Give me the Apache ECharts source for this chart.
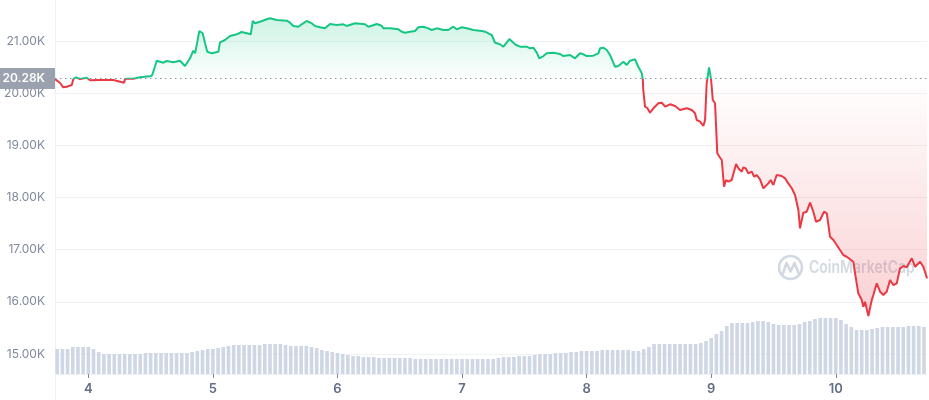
<!DOCTYPE html>
<html><head><meta charset="utf-8">
<script src="https://cdn.jsdelivr.net/npm/echarts@6/dist/echarts.min.js"></script>
<style>html,body{margin:0;padding:0;background:#fff}#c{width:929px;height:400px}</style>
</head><body><div id="c"></div>
<script>
// Time in fractional day-of-month (November), price in USD
const days = [
3.733,3.773,3.799,3.827,3.867,3.880,3.901,3.933,3.987,4.014,
4.094,4.201,4.214,4.287,4.295,4.361,4.415,4.509,4.522,4.549,
4.602,4.629,4.682,4.736,4.776,4.816,4.843,4.857,4.875,4.891,
4.918,4.937,4.955,4.991,5.044,5.057,5.097,5.138,5.191,5.231,
5.272,5.304,5.320,5.338,5.378,5.432,5.459,5.512,5.593,5.619,
5.646,5.686,5.713,5.753,5.793,5.820,5.860,5.900,5.940,5.994,
6.047,6.074,6.141,6.221,6.248,6.275,6.315,6.355,6.368,6.422,
6.489,6.516,6.542,6.583,6.623,6.649,6.689,6.729,6.757,6.797,
6.850,6.890,6.930,6.957,6.998,7.038,7.091,7.158,7.185,7.211,
7.238,7.265,7.305,7.332,7.353,7.380,7.412,7.433,7.466,7.519,
7.546,7.572,7.600,7.620,7.653,7.680,7.733,7.787,7.813,7.867,
7.907,7.947,7.974,8.001,8.054,8.094,8.108,8.134,8.162,8.188,
8.228,8.255,8.295,8.322,8.349,8.389,8.415,8.443,8.451,8.455,
8.469,8.487,8.509,8.536,8.576,8.603,8.630,8.670,8.710,8.750,
8.804,8.844,8.870,8.884,8.911,8.937,8.951,8.964,8.983,8.999,
9.013,9.031,9.049,9.066,9.085,9.103,9.119,9.138,9.165,9.178,
9.200,9.218,9.245,9.258,9.277,9.298,9.326,9.344,9.366,9.392,
9.419,9.459,9.478,9.499,9.526,9.566,9.593,9.619,9.647,9.673,
9.700,9.713,9.740,9.767,9.794,9.820,9.842,9.874,9.906,9.928,
9.954,9.981,10.008,10.034,10.061,10.088,10.101,10.141,10.155,10.181,
10.209,10.221,10.235,10.262,10.289,10.302,10.329,10.356,10.382,10.409,
10.436,10.462,10.490,10.516,10.543,10.570,10.610,10.637,10.677,10.703,
10.733];
const prices = [
20270,20195,20112,20124,20157,20272,20304,20272,20297,20247,
20252,20252,20214,20201,20277,20277,20304,20329,20412,20622,
20584,20617,20592,20622,20521,20668,20814,20764,20987,21192,
21148,20956,20795,20764,20795,20975,21019,21096,21128,21173,
21148,21128,21383,21339,21370,21416,21435,21403,21389,21351,
21288,21274,21320,21383,21339,21288,21263,21243,21326,21307,
21320,21288,21339,21320,21274,21293,21326,21293,21243,21243,
21224,21178,21159,21178,21192,21263,21274,21243,21211,21243,
21211,21211,21274,21224,21263,21243,21211,21192,21178,21148,
21115,20967,20937,20891,20956,21038,20967,20923,20891,20891,
20860,20872,20776,20668,20712,20764,20776,20751,20712,20732,
20668,20764,20745,20712,20718,20764,20860,20872,20827,20732,
20507,20521,20603,20540,20622,20649,20507,20381,20266,20061,
19741,19716,19626,19710,19806,19817,19741,19787,19754,19677,
19710,19677,19614,19486,19453,19371,19486,20189,20496,20266,
19869,19806,18847,18782,18719,18207,18336,18303,18336,18316,
18642,18560,18495,18579,18560,18464,18495,18399,18431,18349,
18177,18272,18336,18240,18431,18412,18368,18272,18177,18048,
17761,17410,17709,17728,17901,17728,17536,17569,17728,17697,
17249,17185,17090,16994,16898,16865,16898,16770,16547,16164,
16035,15907,16003,15729,16035,16131,16356,16195,16131,16195,
16419,16323,16356,16643,16687,16662,16835,16674,16770,16674,
16451];
const baseline = 20280;
// hourly volume bars (relative units), first bar at day 3.75
const volumeStartDay = 3.75;
const volumes = [
25,25,25,27,27,27,27,25,22,20,
20,20,20,20,20,20,20,21,21,21,
21,21,21,21,21,21,22,23,24,25,
25,26,27,28,29,29,29,29,29,29,
30,30,30,30,29,28,28,28,28,27,
26,24,23,22,21,20,19,18,18,17,
17,17,16,16,16,16,16,16,16,15,
15,15,15,15,15,15,15,15,15,15,
15,15,15,15,15,16,17,17,17,18,
18,18,19,20,20,20,21,21,21,22,
22,23,23,23,23,24,24,24,24,24,
24,23,23,25,27,30,30,30,30,30,
30,30,30,30,31,33,36,40,43,48,
51,51,51,51,52,53,53,52,50,49,
49,49,49,50,52,53,55,56,56,56,
56,54,50,47,44,44,44,45,46,47,
47,47,47,47,48,48,48,47];
const dayTicks = [4,5,6,7,8,9,10];
const xMin = 3.7325, xMax = 10.7325;

const GREEN = '#16c784', RED = '#ea3943';
const chart = echarts.init(document.getElementById('c'), null, {renderer: 'canvas'});
const priceData = days.map((d, i) => [d, prices[i]]);
const volData = volumes.map((v, i) => [volumeStartDay + i / 24, v]);
const fmtK = v => (v / 1000).toFixed(2) + 'K';
const wm = '#d3d9e3';

chart.setOption({
  animation: false,
  backgroundColor: '#fff',
  textStyle: {fontFamily: 'Inter, Roboto, sans-serif'},
  grid: [
    {left: 55, width: 872, top: -11.17, height: 417.4, containLabel: false, outerBoundsMode: 'none'},
    {left: 55, width: 872, top: 280, height: 94, containLabel: false, outerBoundsMode: 'none'}
  ],
  xAxis: [
    {gridIndex: 0, type: 'value', min: xMin, max: xMax, show: false},
    {gridIndex: 1, type: 'value', min: xMin, max: xMax,
     axisLine: {show: true, lineStyle: {color: '#eff2f5'}},
     axisTick: {show: true, customValues: dayTicks, length: 4, lineStyle: {color: '#7d8699'}},
     axisLabel: {customValues: dayTicks, color: '#616e85', fontSize: 13, fontWeight: 600, margin: 9,
                 formatter: v => String(v)},
     splitLine: {show: false}}
  ],
  yAxis: [
    {gridIndex: 0, type: 'value', min: 14000, max: 22000, interval: 1000,
     axisLine: {show: true, lineStyle: {color: '#eff2f5'}},
     axisTick: {show: false},
     axisLabel: {color: '#808a9d', fontSize: 12, margin: 10, formatter: fmtK},
     splitLine: {show: true, lineStyle: {color: '#eff2f5', width: 1}}},
    {gridIndex: 1, type: 'value', min: 0, max: 94, show: false, splitLine: {show: false}}
  ],
  graphic: [
    {type: 'circle', z: 0, silent: true, shape: {cx: 790.5, cy: 267.5, r: 11.5}, style: {fill: 'none', stroke: wm, lineWidth: 2.6}},
    {type: 'polyline', z: 0, silent: true, shape: {points: [[783, 273.5], [786.5, 263], [790.5, 271.5], [794.5, 263], [798.5, 273]]},
     style: {fill: 'none', stroke: wm, lineWidth: 2.6, lineJoin: 'round', lineCap: 'round'}},
    {type: 'text', z: 0, silent: true, x: 809, y: 268, scaleY: 1.22, originX: 0, originY: 0,
     style: {text: 'CoinMarketCap', fill: wm, font: '600 14px Inter, Roboto, sans-serif', verticalAlign: 'middle', align: 'left'}}
  ],
  series: [
    {id: 'price', type: 'line', xAxisIndex: 0, yAxisIndex: 0, data: priceData, z: 3,
     symbol: 'none', showSymbol: false, lineStyle: {width: 2, color: GREEN},
     areaStyle: {origin: baseline, color: 'rgba(22,199,132,0.2)'},
     markLine: {
       silent: true, symbol: ['none', 'none'], animation: false,
       lineStyle: {color: '#8a93a5', type: [1.5, 3.5], width: 1.2},
       label: {position: 'start', formatter: fmtK(baseline), backgroundColor: '#9ba1ae', color: '#fff',
               fontWeight: 600, fontSize: 12, padding: [6, 10, 3, 9], distance: 0},
       data: [{yAxis: baseline}]
     }},
    {id: 'vol', type: 'bar', xAxisIndex: 1, yAxisIndex: 1, data: volData, z: 1, silent: true,
     barWidth: 3.6, itemStyle: {color: '#cfd6e4'}}
  ]
});

const px = v => chart.convertToPixel({xAxisIndex: 0, yAxisIndex: 0}, [xMin, v])[1];
const topY = px(Math.max(...prices));
const lowY = px(Math.min(...prices));
const by = px(baseline);
const off = (by - topY) / (lowY - topY);
chart.setOption({series: [{id: 'price',
  lineStyle: {color: {
    type: 'linear', x: 0, y: topY, x2: 0, y2: lowY, global: true,
    colorStops: [
      {offset: 0, color: GREEN}, {offset: off, color: GREEN},
      {offset: off, color: RED}, {offset: 1, color: RED}
    ]}},
  areaStyle: {color: {
    type: 'linear', x: 0, y: topY, x2: 0, y2: lowY, global: true,
    colorStops: [
      {offset: 0, color: 'rgba(22,199,132,0.30)'},
      {offset: Math.max(0, off - 0.002), color: 'rgba(22,199,132,0.02)'},
      {offset: off, color: 'rgba(234,57,67,0.0)'},
      {offset: 1, color: 'rgba(234,57,67,0.33)'}
    ]}}}]});
</script></body></html>
